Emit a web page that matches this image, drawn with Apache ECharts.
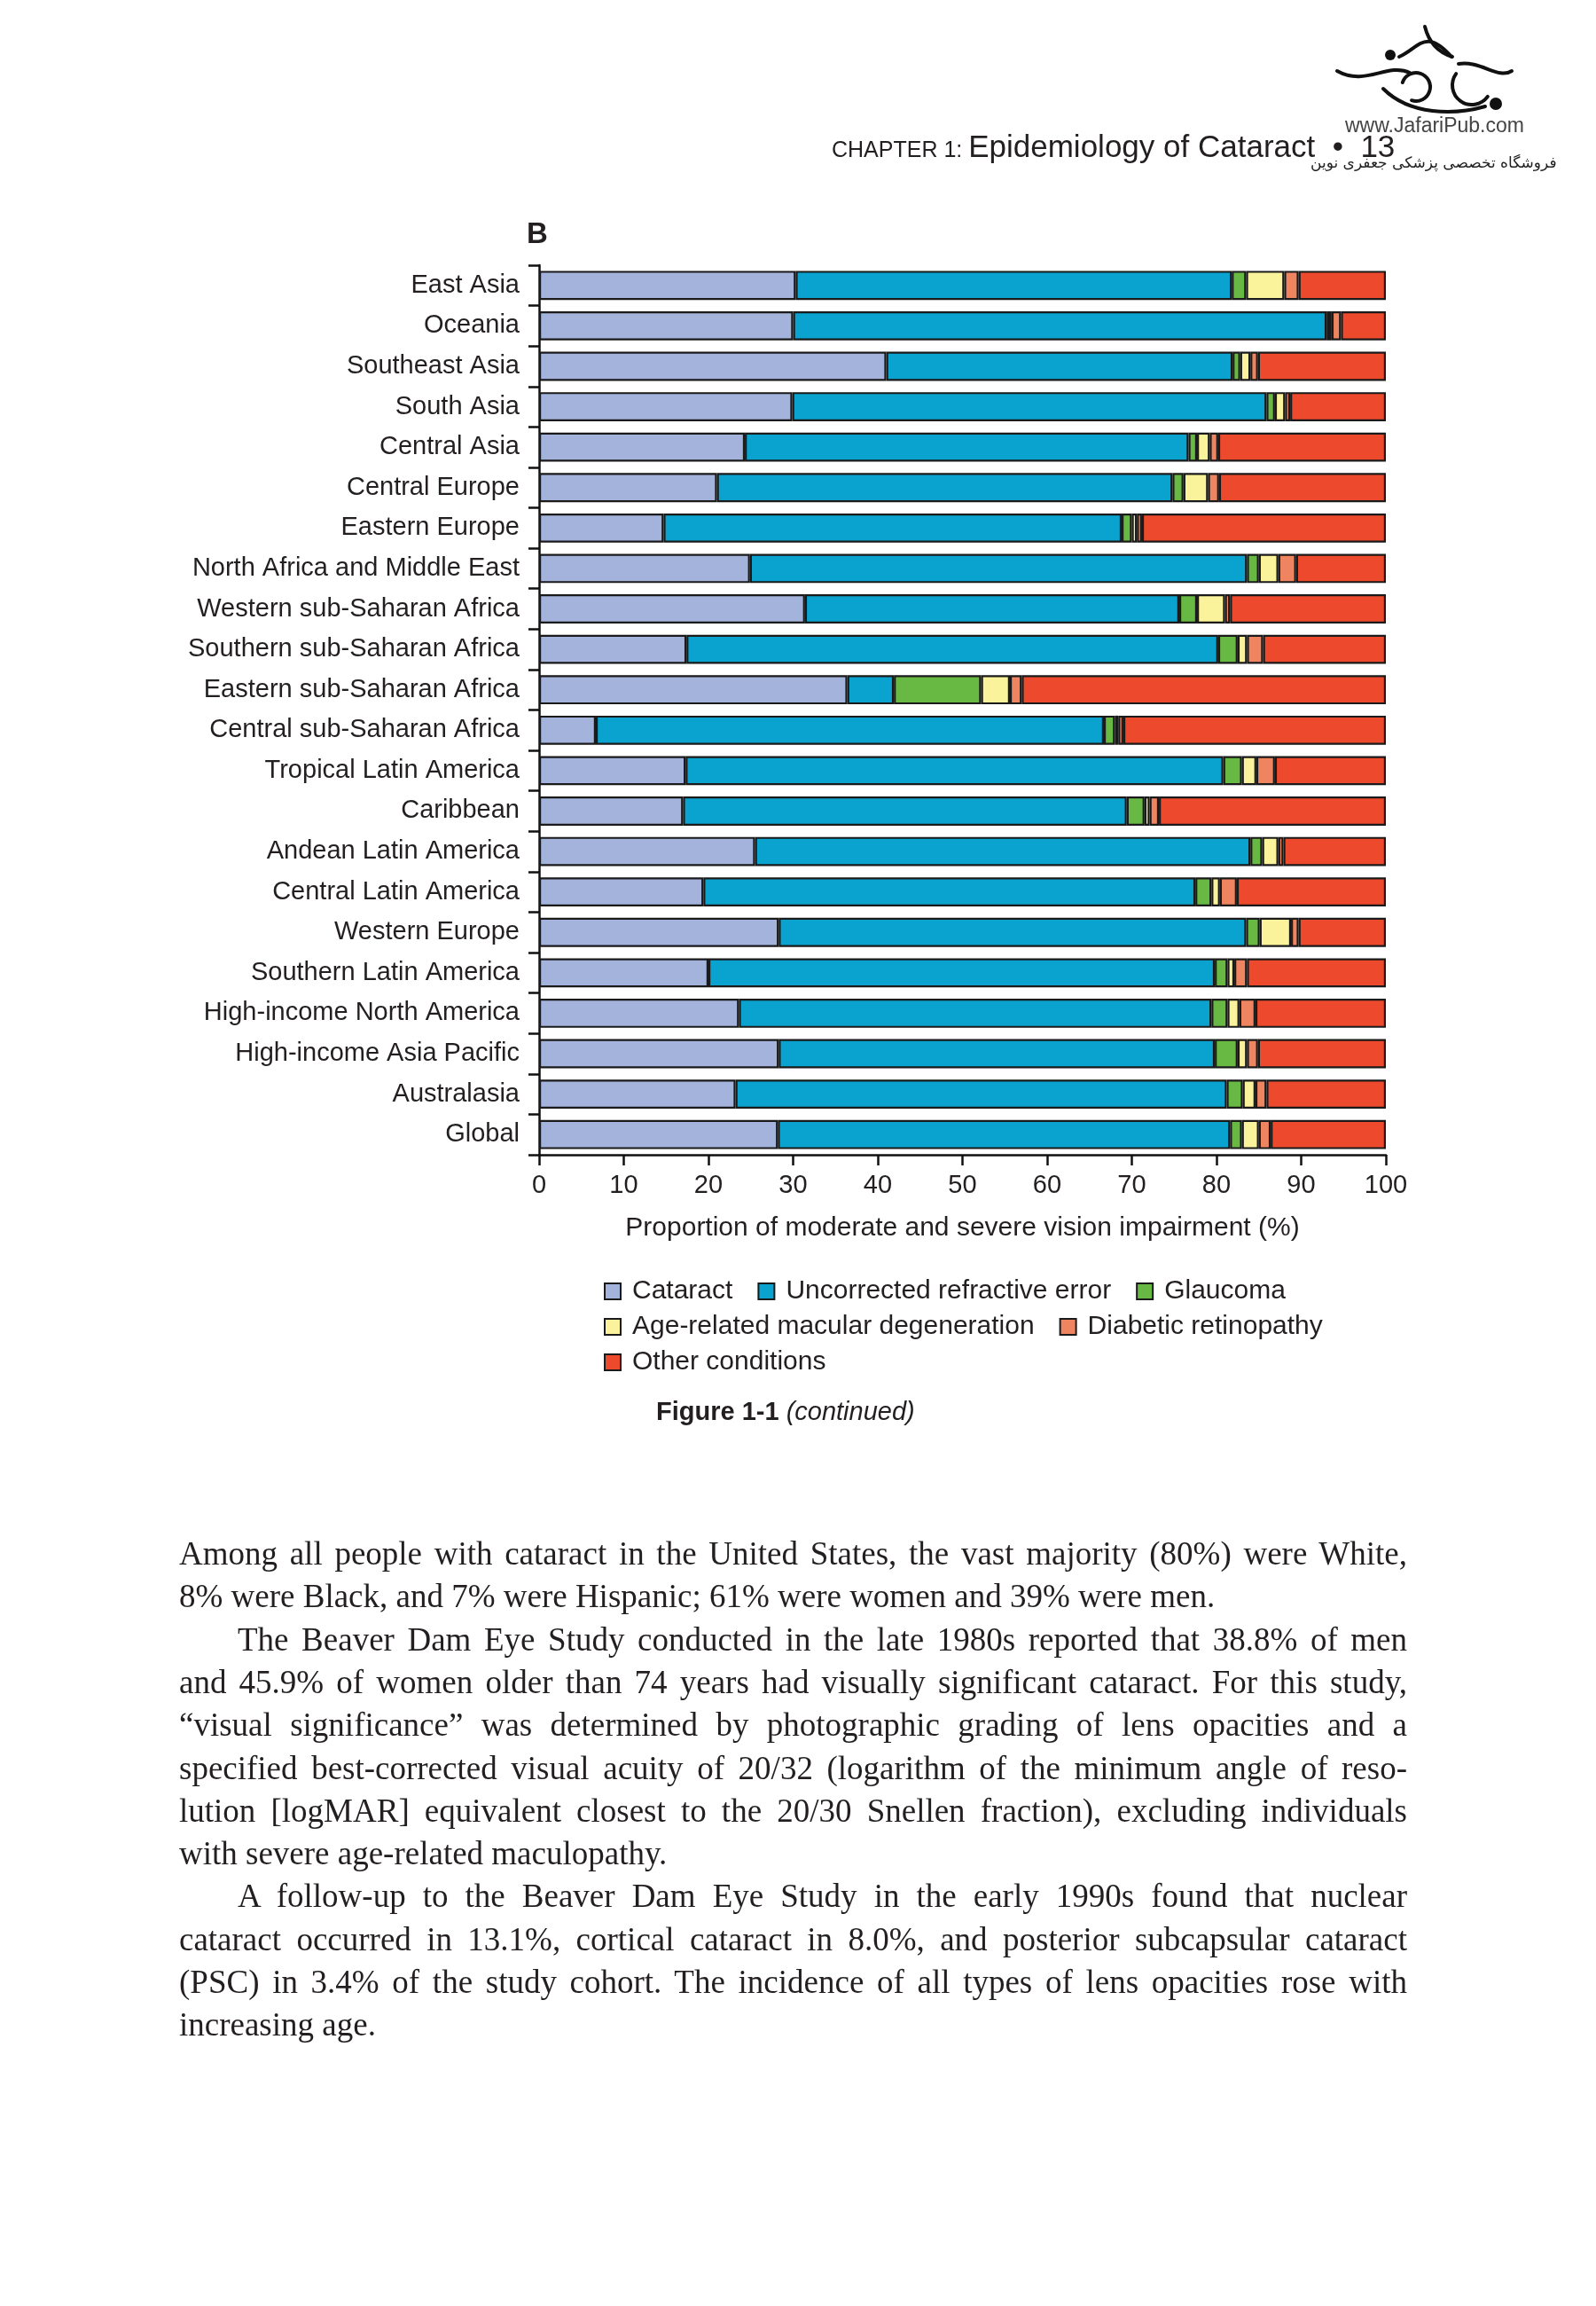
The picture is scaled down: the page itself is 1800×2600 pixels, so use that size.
<!DOCTYPE html>
<html>
<head>
<meta charset="utf-8">
<script src="https://cdn.jsdelivr.net/npm/echarts@6/dist/echarts.min.js"></script>
<style>
  html, body { margin: 0; padding: 0; background: #ffffff; }
  #wrap { position: relative; width: 1800px; height: 2600px; }
  #chart { position: absolute; left: 0; top: 0; width: 1800px; height: 2600px; }
  .ln { position: absolute; left: 202px; width: 1385px; font-family: "Liberation Serif", "DejaVu Serif", serif;
        font-size: 37px; line-height: 48px; color: #231f20; white-space: nowrap; }
  .j { text-align: justify; text-align-last: justify; white-space: normal; }
  .ind { left: 268px; width: 1319px; }
</style>
</head>
<body>
<div id="wrap">
  <div id="chart"></div>
  <div id="body"></div>
</div>
<script>
// ---- data ----
const categories = ['East Asia', 'Oceania', 'Southeast Asia', 'South Asia', 'Central Asia', 'Central Europe',
  'Eastern Europe', 'North Africa and Middle East', 'Western sub-Saharan Africa', 'Southern sub-Saharan Africa',
  'Eastern sub-Saharan Africa', 'Central sub-Saharan Africa', 'Tropical Latin America', 'Caribbean',
  'Andean Latin America', 'Central Latin America', 'Western Europe', 'Southern Latin America',
  'High-income North America', 'High-income Asia Pacific', 'Australasia', 'Global'];
const seriesNames = ['Cataract', 'Uncorrected refractive error', 'Glaucoma',
  'Age-related macular degeneration', 'Diabetic retinopathy', 'Other conditions'];
const cataract = [30.3, 30.0, 41.0, 29.9, 24.3, 21.0, 14.7, 24.9, 31.4, 17.4, 36.4, 6.7, 17.3, 17.0, 25.5, 19.4, 28.3, 20.0, 23.6, 28.3, 23.2, 28.2];
const refractive = [51.5, 63.0, 40.9, 56.0, 52.4, 53.8, 54.1, 58.7, 44.2, 62.8, 5.5, 60.0, 63.5, 52.4, 58.5, 58.1, 55.2, 59.8, 55.8, 51.5, 58.0, 53.4];
const glaucoma = [1.7, 0.3, 0.9, 1.0, 1.0, 1.3, 1.2, 1.4, 2.1, 2.3, 10.3, 1.3, 2.2, 2.1, 1.4, 1.9, 1.6, 1.5, 1.9, 2.7, 1.9, 1.4];
const amd = [4.5, 0.3, 1.2, 1.2, 1.5, 2.9, 0.6, 2.3, 3.3, 1.1, 3.4, 0.4, 1.7, 0.6, 1.9, 1.0, 3.7, 0.8, 1.4, 1.1, 1.5, 2.0];
const diabetic = [1.7, 1.1, 0.9, 0.6, 1.0, 1.3, 0.6, 2.1, 0.6, 1.9, 1.4, 0.6, 2.2, 1.1, 0.6, 2.0, 0.9, 1.5, 1.9, 1.3, 1.3, 1.4];
const other = [10.3, 5.3, 15.1, 11.3, 19.8, 19.7, 28.8, 10.6, 18.4, 14.5, 43.0, 31.0, 13.1, 26.8, 12.1, 17.6, 10.3, 16.4, 15.4, 15.1, 14.1, 13.6];
const xTicks = [0, 10, 20, 30, 40, 50, 60, 70, 80, 90, 100];

const bodyLines = [
  ['Among all people with cataract in the United States, the vast majority (80%) were White,', 'j'],
  ['8% were Black, and 7% were Hispanic; 61% were women and 39% were men.', ''],
  ['The Beaver Dam Eye Study conducted in the late 1980s reported that 38.8% of men', 'j ind'],
  ['and 45.9% of women older than 74 years had visually significant cataract. For this study,', 'j'],
  ['\u201Cvisual significance\u201D was determined by photographic grading of lens opacities and a', 'j'],
  ['specified best-corrected visual acuity of 20/32 (logarithm of the minimum angle of reso-', 'j'],
  ['lution [logMAR] equivalent closest to the 20/30 Snellen fraction), excluding individuals', 'j'],
  ['with severe age-related maculopathy.', ''],
  ['A follow-up to the Beaver Dam Eye Study in the early 1990s found that nuclear', 'j ind'],
  ['cataract occurred in 13.1%, cortical cataract in 8.0%, and posterior subcapsular cataract', 'j'],
  ['(PSC) in 3.4% of the study cohort. The incidence of all types of lens opacities rose with', 'j'],
  ['increasing age.', '']
];

// ---- body text (page text) ----
const bodyEl = document.getElementById('body');
bodyLines.forEach((l, i) => {
  const d = document.createElement('div');
  d.className = 'ln ' + l[1];
  d.style.top = (1728 + i * 48.3) + 'px';
  d.textContent = l[0];
  bodyEl.appendChild(d);
});

// ---- chart ----
const colors = ['#a4b3dc', '#0aa2cf', '#68b944', '#fbf39b', '#ef8560', '#ed4a2d'];
const dataSets = [cataract, refractive, glaucoma, amd, diabetic, other];
const FONT = '"Liberation Sans", Arial, Helvetica, sans-serif';
const TXT = '#231f20';

const chart = echarts.init(document.getElementById('chart'), null, { renderer: 'canvas' });

const legendBase = {
  orient: 'horizontal',
  left: 676,
  itemWidth: 18,
  itemHeight: 18,
  itemGap: 28,
  icon: 'rect',
  selectedMode: false,
  textStyle: { fontFamily: FONT, fontSize: 30, color: TXT, padding: [0, 0, 0, 8] }
};

const logoStroke = { stroke: '#111', lineWidth: 4, fill: null, lineCap: 'round' };

const option = {
  backgroundColor: '#ffffff',
  animation: false,
  grid: { left: 608, right: 237, top: 299, bottom: 1298, containLabel: false },
  legend: [
    Object.assign({}, legendBase, { top: 1436, data: seriesNames.slice(0, 3) }),
    Object.assign({}, legendBase, { top: 1476, data: seriesNames.slice(3, 5) }),
    Object.assign({}, legendBase, { top: 1516, data: seriesNames.slice(5, 6) })
  ],
  xAxis: {
    type: 'value',
    min: 0, max: 100, interval: 10,
    name: 'Proportion of moderate and severe vision impairment (%)',
    nameLocation: 'middle',
    nameGap: 68,
    nameTextStyle: { fontFamily: FONT, fontSize: 30, color: TXT },
    axisLine: { show: true, lineStyle: { color: '#111', width: 2.5 } },
    axisTick: { show: true, length: 12, lineStyle: { color: '#111', width: 2.5 } },
    axisLabel: { fontFamily: FONT, fontSize: 29, color: TXT, margin: 20,
      formatter: v => (xTicks.indexOf(v) >= 0 ? String(v) : '') },
    splitLine: { show: false }
  },
  yAxis: {
    type: 'category',
    data: categories,
    inverse: true,
    axisLine: { show: true, lineStyle: { color: '#111', width: 2.5 } },
    axisTick: { show: true, length: 12, lineStyle: { color: '#111', width: 2.5 } },
    axisLabel: { fontFamily: FONT, fontSize: 29, color: TXT, margin: 22 }
  },
  series: seriesNames.map((n, i) => ({
    name: n,
    type: 'bar',
    stack: 'total',
    data: dataSets[i],
    barCategoryGap: '28%',
    itemStyle: { color: colors[i], borderColor: '#1a1a1a', borderWidth: 2.2 },
    emphasis: { disabled: true }
  })),
  graphic: [
    { type: 'text', left: 594, top: 248,
      style: { text: 'B', font: 'bold 33px ' + FONT, fill: TXT } },
    { type: 'text', left: 740, top: 1578,
      style: { text: '{b|Figure 1-1 }{i|(continued)}', fill: TXT,
        rich: { b: { font: 'bold 29px ' + FONT, fill: TXT }, i: { font: 'italic 29px ' + FONT, fill: TXT } } } },
    { type: 'text', left: 938, top: 150,
      style: { text: '{c|CHAPTER 1: }{t|Epidemiology of Cataract  \u2022  13}', fill: TXT,
        rich: { c: { font: '25px ' + FONT, fill: TXT, padding: [6, 0, 0, 0] },
                t: { font: '35px ' + FONT, fill: TXT } } } },
    { type: 'text', left: 1517, top: 131,
      style: { text: 'www.JafariPub.com', font: '23px ' + FONT, fill: '#444' } },
    { type: 'text', left: 1478, top: 176,
      style: { text: 'فروشگاه تخصصی پزشکی جعفری نوین', font: '17px "DejaVu Sans", sans-serif', fill: '#222' } },
    // decorative publisher logo (approximate)
    { type: 'group', children: [
      { type: 'bezierCurve', shape: { x1: 1578, y1: 64, x2: 1637, y2: 64, cpx1: 1600, cpy1: 55, cpx2: 1607, cpy2: 30 }, style: logoStroke, silent: true },
      { type: 'bezierCurve', shape: { x1: 1607, y1: 30, x2: 1638, y2: 64, cpx1: 1612, cpy1: 50, cpx2: 1625, cpy2: 60 }, style: logoStroke, silent: true },
      { type: 'bezierCurve', shape: { x1: 1508, y1: 80, x2: 1590, y2: 82, cpx1: 1540, cpy1: 98, cpx2: 1565, cpy2: 70 }, style: logoStroke, silent: true },
      { type: 'arc', shape: { cx: 1597, cy: 98, r: 16, startAngle: Math.PI * 1.1, endAngle: Math.PI * 0.6 }, style: logoStroke, silent: true },
      { type: 'arc', shape: { cx: 1660, cy: 96, r: 22, startAngle: Math.PI * 1.2, endAngle: Math.PI * 0.2, clockwise: false }, style: logoStroke, silent: true },
      { type: 'bezierCurve', shape: { x1: 1705, y1: 80, x2: 1645, y2: 72, cpx1: 1690, cpy1: 90, cpx2: 1670, cpy2: 68 }, style: logoStroke, silent: true },
      { type: 'bezierCurve', shape: { x1: 1560, y1: 100, x2: 1675, y2: 120, cpx1: 1590, cpy1: 130, cpx2: 1640, cpy2: 130 }, style: logoStroke, silent: true },
      { type: 'circle', shape: { cx: 1568, cy: 62, r: 6 }, style: { fill: '#111' }, silent: true },
      { type: 'circle', shape: { cx: 1687, cy: 117, r: 7 }, style: { fill: '#111' }, silent: true }
    ] }
  ]
};
chart.setOption(option);
</script>
</body>
</html>
